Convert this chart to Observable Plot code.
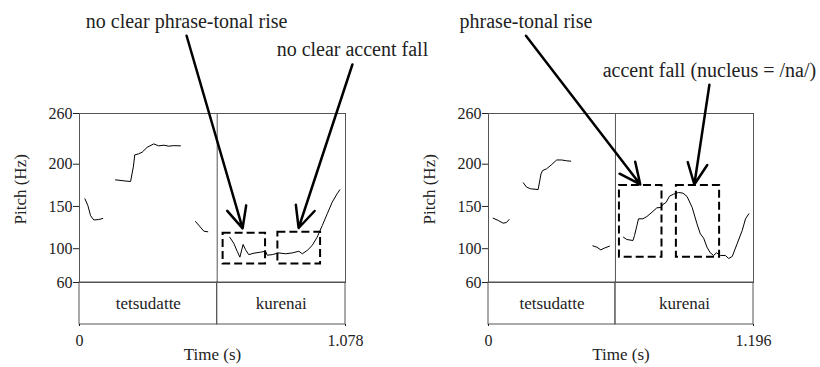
<!DOCTYPE html>
<html>
<head>
<meta charset="utf-8">
<script src="https://cdn.jsdelivr.net/npm/d3@7"></script>
<script src="https://cdn.jsdelivr.net/npm/@observablehq/plot@0.6"></script>
<style>
html, body { margin: 0; padding: 0; background: #fff; }
#chart { position: relative; width: 820px; height: 367px; overflow: hidden; }
.panel { position: absolute; top: 0; width: 410px; height: 367px; }
.panel svg { position: absolute; left: 0; overflow: visible; }
</style>
</head>
<body>
<div id="chart"></div>
<script>
// ---------- shared ----------
const yTicks = [60, 100, 150, 200, 260];

// ---------- left panel ----------
const leftEnd = 1.078;
const leftWords = ["tetsudatte", "kurenai"];
const leftWordStart = [0, 0.558];
const leftWordEnd = [0.558, 1.078];
const leftContourT = [
  [0.022, 0.034, 0.045, 0.058, 0.078, 0.094],
  [0.146, 0.180, 0.207, 0.218, 0.224, 0.240, 0.254, 0.274, 0.301, 0.321, 0.342, 0.362, 0.382, 0.409],
  [0.470, 0.490, 0.504, 0.520],
  [0.609, 0.625, 0.639, 0.650, 0.663, 0.673, 0.686, 0.707, 0.734, 0.754, 0.761, 0.781, 0.808, 0.835, 0.862, 0.889, 0.903, 0.923, 0.943, 0.963, 0.984, 1.004, 1.024, 1.044, 1.055]
];
const leftContourP = [
  [159, 151, 139, 134, 134.5, 135.8],
  [181.5, 180.3, 179.5, 196.5, 211, 212.3, 214.2, 220, 224, 221.7, 222.5, 221.3, 222, 221.7],
  [132.2, 125.5, 120.7, 120],
  [113.6, 106.5, 97, 90, 105, 98.7, 93, 94.7, 95.9, 97, 92.3, 93, 95, 94, 95, 97, 94, 98, 103.8, 113.6, 127.5, 141.3, 155, 165, 169.7]
];
const leftBoxT1 = [0.582, 0.804];
const leftBoxT2 = [0.754, 0.977];
const leftBoxP1 = [82, 82];
const leftBoxP2 = [118.3, 119.5];
const leftNotes = ["no clear phrase-tonal rise", "no clear accent fall"];
const leftNoteT = [0.434, 1.106];
const leftNoteP = [352, 318];
const leftTipT = [0.661, 0.888];
const leftTipP = [124, 124.5];

// ---------- right panel ----------
const rightEnd = 1.196;
const rightWords = ["tetsudatte", "kurenai"];
const rightWordStart = [0, 0.573];
const rightWordEnd = [0.573, 1.196];
const rightContourT = [
  [0.021, 0.044, 0.066, 0.081, 0.093],
  [0.157, 0.172, 0.190, 0.224, 0.237, 0.244, 0.262, 0.285, 0.308, 0.330, 0.353, 0.371],
  [0.471, 0.489, 0.507, 0.522, 0.546],
  [0.609, 0.624, 0.652, 0.659, 0.670, 0.677, 0.697, 0.715, 0.738, 0.760, 0.778, 0.787, 0.802, 0.817, 0.835, 0.858, 0.878, 0.896, 0.919, 0.941, 0.956, 0.971, 0.986, 1.001, 1.016, 1.029, 1.047, 1.069, 1.084, 1.100, 1.122, 1.145, 1.160, 1.175]
];
const rightContourP = [
  [136.1, 133.4, 130.2, 131, 134.5],
  [178, 172.8, 170.9, 170, 188.6, 192.5, 194.5, 199.6, 205, 205, 204, 203.6],
  [103.4, 101.8, 98.6, 100.6, 103],
  [113.6, 110.9, 109.7, 115.6, 127.5, 135.4, 135.4, 138.1, 143.2, 148.4, 148.8, 152.3, 155, 162.2, 164.5, 166.5, 165.7, 161.8, 149, 129.4, 117.6, 112.5, 101.8, 95.1, 92, 95.1, 92, 92, 88.4, 90.8, 105.8, 121.5, 135.4, 141.3]
];
const rightBoxT1 = [0.591, 0.848];
const rightBoxT2 = [0.783, 1.043];
const rightBoxP1 = [90, 90];
const rightBoxP2 = [174.8, 174.8];
const rightNotes = ["phrase-tonal rise", "accent fall (nucleus = /na/)"];
const rightNoteT = [0.169, 0.997];
const rightNoteP = [352, 294];
const rightTipT = [0.685, 0.929];
const rightTipP = [176, 176];

// ---------- drawing ----------
const FONT = "Liberation Serif";
const baseStyle = {fontFamily: FONT, fontSize: "16px", color: "#222", background: "transparent", overflow: "visible"};

function drawPanel(o) {
  const panel = document.createElement("div");
  panel.className = "panel";
  panel.style.left = o.left + "px";
  document.getElementById("chart").appendChild(panel);

  const contour = o.contourT.flatMap((ts, s) => ts.map((t, i) => ({seg: s, t, p: o.contourP[s][i]})));
  const boxes = o.boxT1.map((t1, i) => ({t1, t2: o.boxT2[i], p1: o.boxP1[i], p2: o.boxP2[i]}));
  const notes = o.notes.map((text, i) => ({text, t: o.noteT[i], p: o.noteP[i], tt: o.tipT[i], tp: o.tipP[i]}));
  const words = o.words.map((word, i) => ({word, start: o.wordStart[i], end: o.wordEnd[i]}));

  const pitch = Plot.plot({
    width: 410, height: 292,
    marginTop: 113, marginBottom: 10, marginLeft: o.ml, marginRight: o.mr,
    style: baseStyle,
    x: {domain: [0, o.end], axis: null},
    y: {domain: [60, 260]},
    marks: [
      Plot.axisY({ticks: yTicks, tickSize: 6, tickPadding: 1, label: null, fontSize: 16, fontFamily: FONT}),
      Plot.ruleX(o.wordEnd.slice(0, -1), {stroke: "#555", strokeWidth: 1}),
      Plot.frame({stroke: "#555", strokeWidth: 1}),
      Plot.line(contour, {x: "t", y: "p", z: "seg", stroke: "#000", strokeWidth: 1}),
      Plot.rect(boxes, {x1: "t1", x2: "t2", y1: "p1", y2: "p2", fill: "none", stroke: "#000", strokeWidth: 2, strokeDasharray: "8,4"}),
      Plot.arrow(notes, {x1: "t", y1: "p", x2: "tt", y2: "tp", stroke: "#000", strokeWidth: 2.5, headLength: 14, headAngle: 50}),
      Plot.text(notes, {x: "t", y: "p", text: "text", lineAnchor: "bottom", dy: -8, fontSize: 20, fontFamily: FONT, fill: "#222"}),
      Plot.text(["Pitch (Hz)"], {text: d => d, frameAnchor: "left", rotate: -90, dx: -59, dy: 26.5, fontSize: 17, fontFamily: FONT, fill: "#222"})
    ]
  });
  pitch.style.top = "0px";
  panel.appendChild(pitch);

  const tier = Plot.plot({
    width: 410, height: 85,
    marginTop: 0, marginBottom: 43, marginLeft: o.ml, marginRight: o.mr,
    style: baseStyle,
    x: {domain: [0, o.end]},
    marks: [
      Plot.rect(words, {x1: "start", x2: "end", stroke: "#555", strokeWidth: 1, fill: "none"}),
      Plot.text(words, {x: d => (d.start + d.end) / 2, text: "word", frameAnchor: "middle", fontSize: 17, fontFamily: FONT, fill: "#222"}),
      Plot.axisX({ticks: [0, o.end], tickFormat: d => d === 0 ? "0" : d3.format(".3f")(d), tickSize: 2, tickPadding: 8, label: null, fontSize: 16, fontFamily: FONT}),
      Plot.text(["Time (s)"], {text: d => d, frameAnchor: "bottom", dy: 35, fontSize: 17, fontFamily: FONT, fill: "#222"})
    ]
  });
  tier.style.top = "282px";
  panel.appendChild(tier);
}

drawPanel({
  left: 0, ml: 79, mr: 65, end: leftEnd,
  words: leftWords, wordStart: leftWordStart, wordEnd: leftWordEnd,
  contourT: leftContourT, contourP: leftContourP,
  boxT1: leftBoxT1, boxT2: leftBoxT2, boxP1: leftBoxP1, boxP2: leftBoxP2,
  notes: leftNotes, noteT: leftNoteT, noteP: leftNoteP, tipT: leftTipT, tipP: leftTipP
});
drawPanel({
  left: 410, ml: 78, mr: 67, end: rightEnd,
  words: rightWords, wordStart: rightWordStart, wordEnd: rightWordEnd,
  contourT: rightContourT, contourP: rightContourP,
  boxT1: rightBoxT1, boxT2: rightBoxT2, boxP1: rightBoxP1, boxP2: rightBoxP2,
  notes: rightNotes, noteT: rightNoteT, noteP: rightNoteP, tipT: rightTipT, tipP: rightTipP
});
</script>
</body>
</html>
